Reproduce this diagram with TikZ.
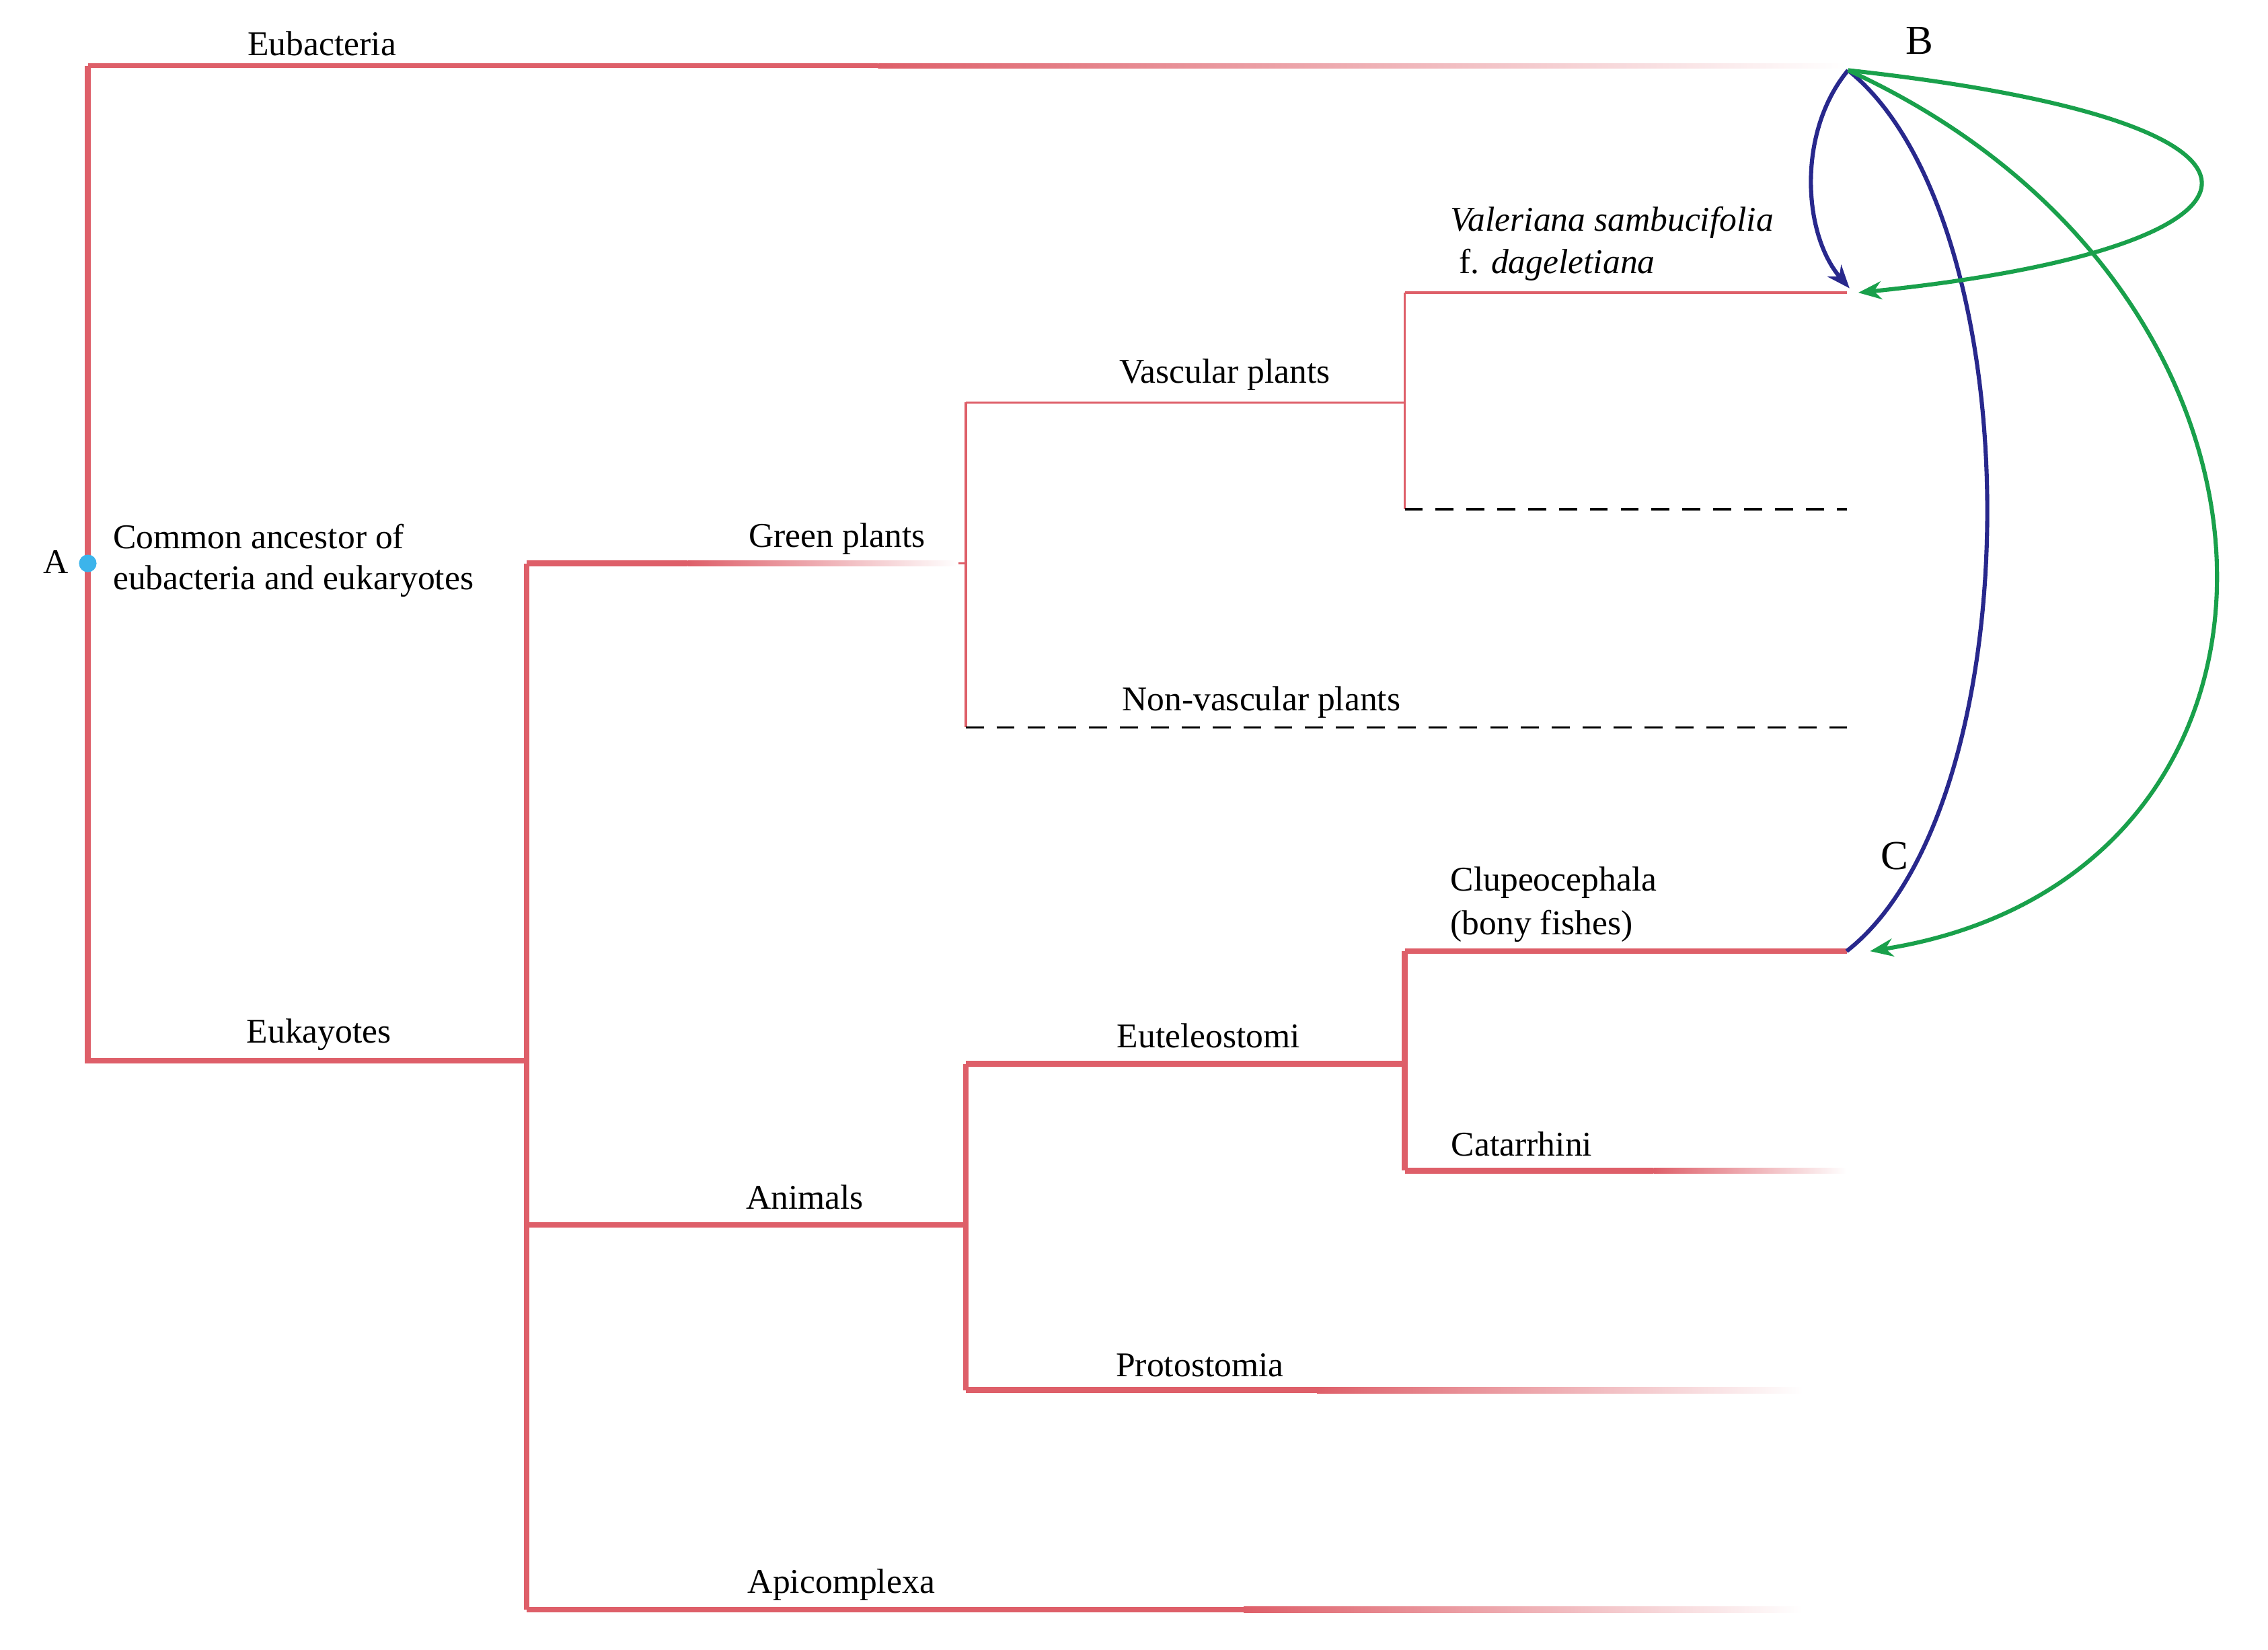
\documentclass[tikz,border=0pt]{standalone}
\usepackage{fontspec}
\setmainfont{Liberation Serif}
\usetikzlibrary{arrows.meta}
\definecolor{tr}{RGB}{222,95,105}
\definecolor{bl}{RGB}{40,40,140}
\definecolor{gr}{RGB}{25,160,75}
\definecolor{dot}{RGB}{60,180,235}
\newcommand\hfade[5]{% x1 xm x2 y halfwidth
  \fill[tr] (#1,#4-#5) rectangle (#2,#4+#5);
  \shade[left color=tr,right color=white] (#2,#4-#5) rectangle (#3,#4+#5);}
\begin{document}
\begin{tikzpicture}[x=0.02cm,y=-0.02cm,
  lab/.style={font=\fontsize{13.5}{16}\selectfont,inner sep=0},
  br/.style={tr,line width=2.2pt},
  thin/.style={tr,line width=0.9pt},
  dsh/.style={black,line width=0.9pt,dash pattern=on 7pt off 5pt},
  ab/.style={bl,line width=1.6pt,-{Stealth[length=9pt,width=7pt]}},
  ag/.style={gr,line width=1.6pt,-{Stealth[length=9pt,width=7pt]}}]
\useasboundingbox (0,0) rectangle (1550,1127.5);
% trunk
\draw[br] (60,45) -- (60,725) -- (360,725);
\draw[br] (360,385) -- (360,1100);
\hfade{60}{600}{1262}{45}{1.6}
\hfade{360}{470}{655}{385}{2}
\draw[thin] (655,385) -- (660,385);
\draw[thin] (660,275) -- (660,497);
\draw[thin] (660,275) -- (960,275);
\draw[thin] (960,200) -- (960,348) ;
\draw[thin] (960,200) -- (1262,200);
\draw[dsh] (960,348) -- (1262,348);
\draw[dsh] (660,497) -- (1262,497);
\draw[br] (360,837) -- (660,837);
\draw[br] (660,727) -- (660,950);
\draw[br] (660,727) -- (960,727);
\draw[br] (960,650) -- (960,800);
\draw[br] (960,650) -- (1262,650);
\hfade{960}{1130}{1262}{800}{2}
\hfade{660}{900}{1232}{950}{2}
\hfade{360}{850}{1232}{1100}{2}
\fill[dot] (60,385) circle (6);
% labels
\node[lab] (A) at (38,384) {A};
\node[lab,align=left,anchor=west] (ca) at (77,383) {Common ancestor of\\eubacteria and eukaryotes};
\node[lab] (eub) at (220,30) {Eubacteria};
\node[lab] (euk) at (218,707) {Eukayotes};
\node[lab] (gp) at (572,368) {Green plants};
\node[lab] (vp) at (837,256) {Vascular plants};
\node[lab] (nvp) at (862,480) {Non-vascular plants};
\node[lab,anchor=west] (val) at (991,152) {\itshape Valeriana sambucifolia};
\node[lab,anchor=west] (val2) at (997,181) {f. \itshape dageletiana};
\node[lab,anchor=west] (clu) at (991,603) {Clupeocephala};
\node[lab,anchor=west] (clu2) at (991,633) {(bony fishes)};
\node[lab] (an) at (550,818) {Animals};
\node[lab] (eut) at (826,708) {Euteleostomi};
\node[lab] (cat) at (1040,782) {Catarrhini};
\node[lab] (pro) at (820,933) {Protostomia};
\node[lab] (api) at (575,1083) {Apicomplexa};
\node[lab,font=\fontsize{16}{18}\selectfont] (B) at (1312,28) {B};
\node[lab,font=\fontsize{16}{18}\selectfont] (C) at (1295,585) {C};
\coordinate (b0) at (1263,48);
\coordinate (v) at (1264,197);
\coordinate (vg) at (1270,200);
\coordinate (c0) at (1262,650);
\coordinate (cg) at (1278,650);
% arrows
\draw[ab] (b0) .. controls (1228,90) and (1232,160) .. (v);
\draw[bl,line width=1.6pt] (b0) .. controls (1390,150) and (1390,550) .. (c0);
\draw[ag] (b0) .. controls (1600,85) and (1565,170) .. (vg);
\draw[ag] (b0) .. controls (1595,200) and (1595,600) .. (cg);
\end{tikzpicture}
\end{document}
